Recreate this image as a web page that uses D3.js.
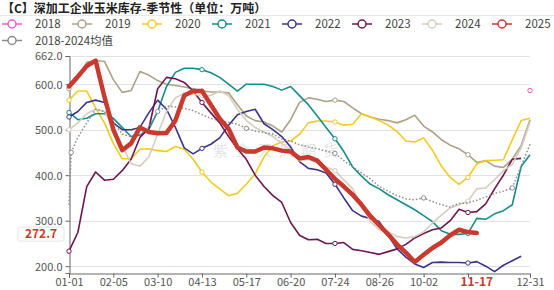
<!DOCTYPE html>
<html>
<head>
<meta charset="utf-8">
<script src="https://cdn.jsdelivr.net/npm/d3@7"></script>
<style>
  html, body { margin: 0; padding: 0; background: #fff; }
  svg { display: block; font-family: "Noto Sans CJK SC", "Noto Sans", sans-serif; }
</style>
</head>
<body>
<div id="chart"></div>
<script>
// Weekly points, index 0 = 01-01 ... 52 = 12-31
const years = ['2018', '2019', '2020', '2021', '2022', '2023', '2024', '2025'];
const colors = ['#e462c9', '#aca285', '#f2cb1d', '#178c8a', '#3a3588', '#6e1652', '#d6cdbd', '#c9392d'];

const s2018 = [null, null, null, null, null, null, null, null, null, null, null, null, null, null, null, null, null, null, null, null, null, null, null, null, null, null, null, null, null, null, null, null, null, null, null, null, null, null, null, null, null, null, null, null, null, null, null, null, null, null, null, null, 586];
const s2019 = [590, 612, 648, 652, 650, 610, 582, 586, 628, 620, 608, 600, 597, 594, 590, 585, 583, 583, 581, 555, 530, 520, 517, 508, 495, 522, 560, 570, 567, 562, 565, 562, 548, 535, 528, 523, 520, 515, 522, 532, 508, 495, 478, 466, 458, 445, 428, 432, 420, 417, 435, 465, 522];
const s2020 = [565, 585, 585, 548, 515, 470, 436, 436, 457, 458, 454, 452, 463, 457, 435, 407, 385, 370, 355, 360, 380, 403, 440, 465, 473, 475, 490, 515, 519, 519, 517, 510, 512, 535, 528, 520, 510, 496, 475, 473, 482, 455, 420, 395, 380, 395, 425, 432, 433, 434, 478, 520, 525];
const s2021 = [538, 522, 525, 535, 535, 525, 505, 485, 488, 500, 540, 595, 626, 635, 635, 632, 625, 615, 600, 585, 600, 600, 600, 595, 587, 595, 575, 555, 530, 505, 480, 452, 418, 398, 380, 370, 357, 346, 335, 324, 311, 298, 278, 270, 270, 272, 305, 303, 315, 322, 335, 419, 445];
const s2022 = [528, 540, 560, 565, 560, 515, 500, 500, 505, 537, 565, 545, 505, 460, 447, 459, 468, 482, 510, 533, 540, 545, 513, 500, 485, 462, 430, 415, 412, 405, 380, 350, 322, 310, 305, 298, 268, 238, 220, 205, 197, 208, 209, 208, 208, 207, 210, 200, 188, 202, 212, 222, null];
const s2023 = [233, 274, 375, 407, 389, 391, 410, 435, 483, 502, 590, 615, 612, 604, 585, 560, 537, 515, 485, 458, 435, 400, 375, 355, 340, 296, 268, 258, 259, 250, 250, 252, 237, 234, 230, 226, 232, 238, 248, 262, 272, 280, 284, 300, 325, 318, 320, 337, 370, 400, 435, 437, null];
const s2024 = [500, 515, 535, 545, 540, 505, 465, 425, 420, 440, 490, 540, 570, 580, 578, 575, 575, 585, 575, 545, 520, 505, 495, 485, 470, 455, 432, 435, 428, 418, 410, 390, 370, 335, 298, 280, 276, 265, 262, 265, 275, 295, 312, 328, 335, 343, 370, 372, 390, 410, 424, 460, 517];
const s2025 = [595, 617, 640, 652, 572, 500, 455, 470, 505, 495, 492, 493, 520, 575, 585, 585, 555, 524, 502, 461, 452, 452, 461, 459, 454, 452, 437, 440, 432, 412, 392, 375, 357, 335, 310, 290, 270, 248, 230, 209, 225, 240, 252, 268, 280, 275, 272.7];
const series = [s2018, s2019, s2020, s2021, s2022, s2023, s2024, s2025];

// 2018-2024 mean: first point opens at 01-01 with a near-vertical jump
const meanIdx = [0, 0.25].concat(d3.range(1, 53));
const meanValues = [335, 450, 483, 515, 545, 540, 518, 490, 485, 490, 505, 540, 552, 550, 547, 542, 533, 525, 520, 516, 512, 503, 497, 494, 490, 480, 475, 467, 462, 458, 453, 448, 432, 418, 405, 392, 375, 365, 355, 348, 346, 350, 342, 335, 330, 338, 339, 345, 352, 360, 365, 372, 420, 468];

const yTicks = [200, 300, 400, 500, 600, 662];
const xTickIdx = [0, 5, 10, 15, 20, 25, 30, 35, 40, 45, 52];
const xLabels = ['01-01', '02-05', '03-10', '04-13', '05-17', '06-20', '07-24', '08-26', '10-02', '', '12-31'];
const currentIdx = 46;
const currentLabel = '11-17';

const width = 554, height = 290;
const svg = d3.select('#chart').append('svg')
  .attr('width', width).attr('height', height);

const x = d3.scaleLinear().domain([0, 52]).range([69, 530]);
const y = d3.scaleLinear().domain([185, 662]).range([273, 56]);

// Title + separator
svg.append('text')
  .attr('x', 2).attr('y', 13)
  .attr('font-size', '12px').attr('font-weight', 700).attr('fill', '#222')
  .text('【C】深加工企业玉米库存-季节性（单位：万吨）');
svg.append('line')
  .attr('x1', 0).attr('x2', width).attr('y1', 15.5).attr('y2', 15.5)
  .attr('stroke', '#e8e8e8');

// Legend
const legendItems = years.map((yr, i) => ({ label: yr, color: colors[i], cx: 12 + i * 70, cy: 24 }))
  .concat([{ label: '2018-2024均值', color: '#8c8c8c', cx: 12, cy: 40.5 }]);
const lg = svg.append('g').attr('class', 'legend')
  .selectAll('g').data(legendItems).enter().append('g');
lg.append('line')
  .attr('x1', d => d.cx - 10).attr('x2', d => d.cx + 10)
  .attr('y1', d => d.cy).attr('y2', d => d.cy)
  .attr('stroke', d => d.color).attr('stroke-width', 1.5);
lg.append('circle')
  .attr('cx', d => d.cx).attr('cy', d => d.cy).attr('r', 4)
  .attr('fill', '#fff').attr('stroke', d => d.color).attr('stroke-width', 1.5);
lg.append('text')
  .attr('x', d => d.cx + 23).attr('y', d => d.cy + 4)
  .attr('font-size', '11.5px').attr('fill', '#444')
  .text(d => d.label);

// Grid
svg.append('g').selectAll('line').data(yTicks).enter().append('line')
  .attr('x1', 69).attr('x2', 530)
  .attr('y1', d => Math.round(y(d)) + 0.5).attr('y2', d => Math.round(y(d)) + 0.5)
  .attr('stroke', '#e2e2e2');

// Axes
const yAxis = svg.append('g').attr('transform', 'translate(69.5,0)')
  .call(d3.axisLeft(y).tickValues(yTicks).tickFormat(d3.format('.1f')).tickSize(4).tickPadding(3));
const xAxis = svg.append('g').attr('transform', 'translate(0,273.5)')
  .call(d3.axisBottom(x).tickValues(xTickIdx).tickFormat((d, i) => xLabels[i]).tickSize(4).tickPadding(1));
[yAxis, xAxis].forEach(a => {
  a.select('.domain').attr('stroke', '#666');
  a.selectAll('.tick line').attr('stroke', '#666');
  a.selectAll('.tick text').attr('fill', '#555').attr('font-size', '11px')
    .attr('font-family', '"Noto Sans CJK SC", "Noto Sans", sans-serif');
});
yAxis.selectAll('.tick text').attr('dy', '0.35em');

svg.append('text')
  .attr('x', x(currentIdx)).attr('y', 286)
  .attr('text-anchor', 'middle').attr('font-size', '12px').attr('font-weight', 700)
  .attr('fill', '#c9392d').text(currentLabel);

// Watermark
svg.append('text')
  .attr('x', 213).attr('y', 156)
  .attr('font-size', '15px').attr('letter-spacing', '7px')
  .attr('fill', '#cfcfcf').attr('opacity', 0.55)
  .text('紫金天风期货');

// Lines
const line = d3.line()
  .defined(d => d[1] != null)
  .x(d => x(d[0])).y(d => y(d[1]));

const plot = svg.append('g');
series.forEach((vals, k) => {
  if (k === 7) return;
  const pts = vals.map((v, i) => [i, v]);
  plot.append('path').datum(pts)
    .attr('d', line).attr('fill', 'none')
    .attr('stroke', colors[k]).attr('stroke-width', 1.6)
    .attr('stroke-linejoin', 'round');
  plot.selectAll(null).data(pts.filter(p => p[1] != null && (p[0] % 15 === 0 || vals.filter(v => v != null).length === 1)))
    .enter().append('circle')
    .attr('cx', d => x(d[0])).attr('cy', d => y(d[1])).attr('r', 2.2)
    .attr('fill', '#fff').attr('stroke', colors[k]).attr('stroke-width', 1);
});

// Mean (dotted)
const meanPts = meanValues.map((v, i) => [meanIdx[i], v]);
plot.append('path').datum(meanPts)
  .attr('d', line).attr('fill', 'none')
  .attr('stroke', '#8c8c8c').attr('stroke-width', 1.5)
  .attr('stroke-dasharray', '1.5,2');
plot.selectAll(null).data(meanPts.filter((p, i) => i === 1 || (p[0] % 10 === 0 && p[0] > 0)))
  .enter().append('circle')
  .attr('cx', d => x(d[0])).attr('cy', d => y(d[1])).attr('r', 2.2)
  .attr('fill', '#fff').attr('stroke', '#8c8c8c').attr('stroke-width', 1);

// 2025 thick on top
plot.append('path').datum(s2025.map((v, i) => [i, v]))
  .attr('d', line).attr('fill', 'none')
  .attr('stroke', colors[7]).attr('stroke-width', 4.5)
  .attr('stroke-linejoin', 'round').attr('stroke-linecap', 'round');

// Current value tag on y axis
const last = s2025[s2025.length - 1];
const tag = svg.append('g').attr('transform', `translate(41,${y(last) + 1})`);
tag.append('rect')
  .attr('x', -23).attr('y', -7).attr('width', 46).attr('height', 14)
  .attr('fill', '#fff').attr('stroke', '#e4e4e4').attr('rx', 2);
tag.append('text')
  .attr('text-anchor', 'middle').attr('dy', '0.36em')
  .attr('font-size', '12px').attr('font-weight', 700).attr('fill', '#c9392d')
  .text(d3.format('.1f')(last));
</script>
</body>
</html>
